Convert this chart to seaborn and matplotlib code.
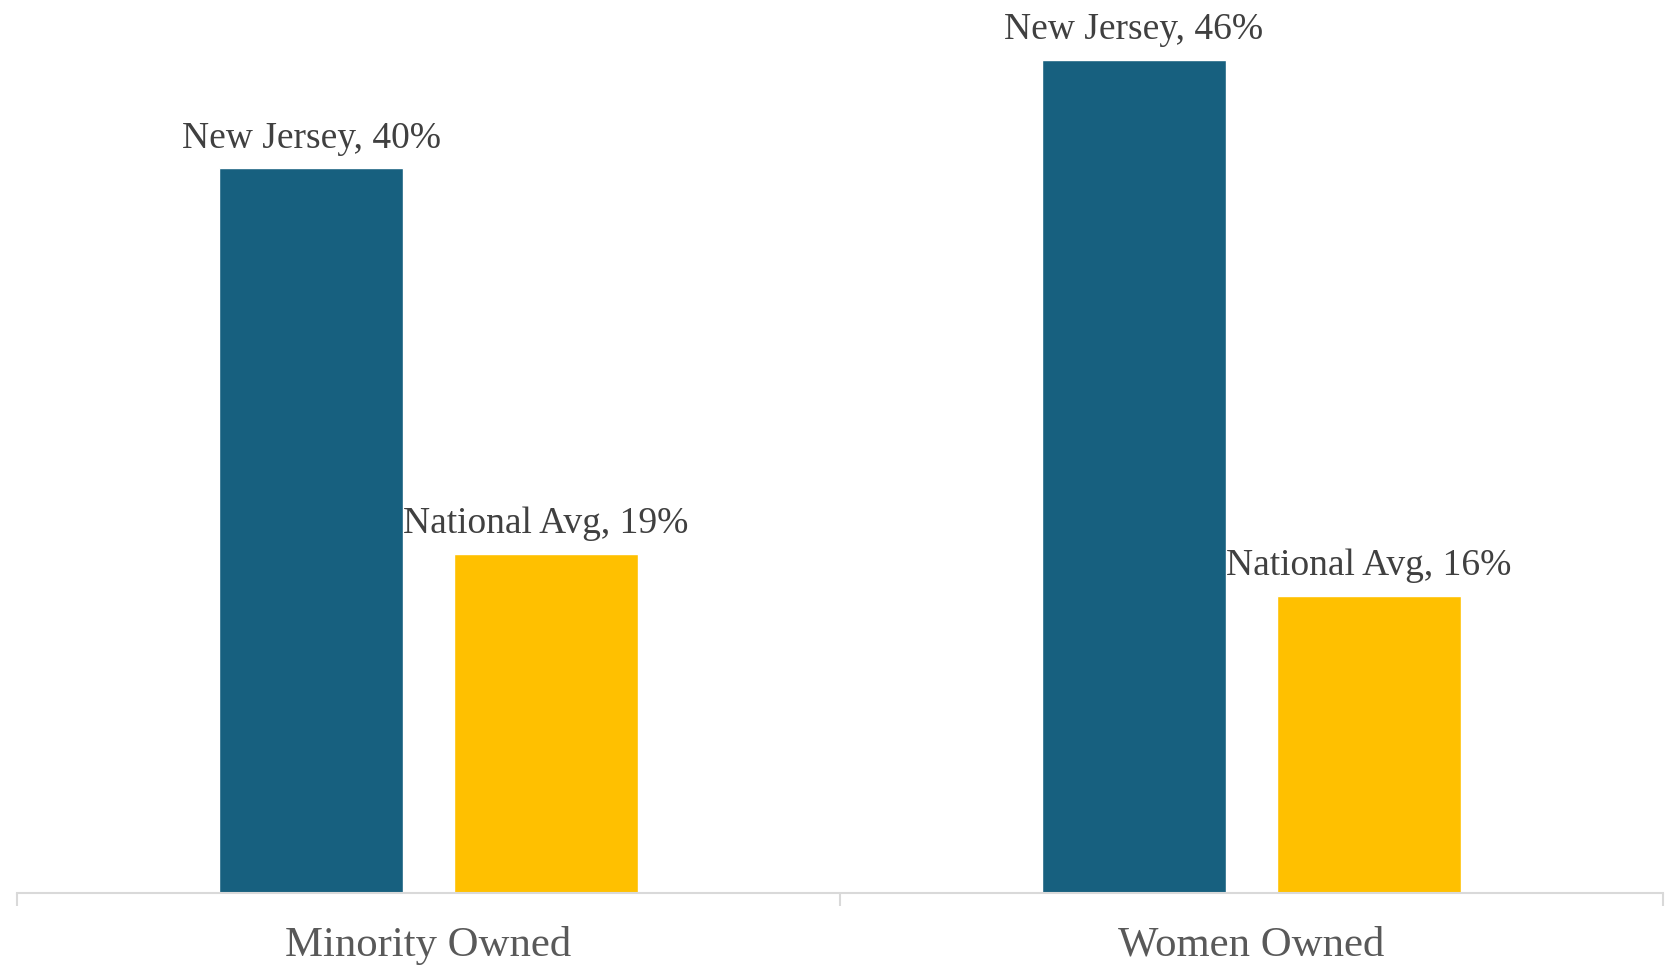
import pandas as pd
import seaborn as sns
import matplotlib.pyplot as plt
from matplotlib.ticker import FixedLocator

# datos (las etiquetas redondean al entero)
categorias = ["Minority Owned", "Women Owned"]
series = ["New Jersey", "National Avg"]
nj = [40, 46]
nacional = [18.7, 16.4]
colores = ["#17607F", "#FFC000"]

df = pd.DataFrame({
    "categoria": categorias * 2,
    "serie": [series[0]] * 2 + [series[1]] * 2,
    "valor": nj + nacional,
})

sns.set_theme(style="white")
plt.rcParams["font.family"] = ["Liberation Serif", "DejaVu Serif"]

fig = plt.figure(figsize=(16.66, 9.72), dpi=100)
ax = fig.add_axes([17 / 1666, (972 - 892.5) / 972, 1646 / 1666, 892.5 / 972])

sns.barplot(data=df, x="categoria", y="valor", hue="serie",
            palette=colores, width=0.571, gap=0.217, saturation=1,
            legend=False, ax=ax)

for cont, nombre in zip(ax.containers, series):
    etiquetas = [f"{nombre}, {v:.0f}%" for v in cont.datavalues]
    ax.bar_label(cont, labels=etiquetas, padding=9, fontsize=27,
                 color="#404040")

ax.set_xlim(-0.5, 1.5)
ax.set_ylim(0, 49.3)
ax.set_xlabel("")
ax.set_ylabel("")
ax.set_yticks([])

for lado in ["top", "left", "right"]:
    ax.spines[lado].set_visible(False)
ax.spines["bottom"].set_color("#d9d9d9")
ax.spines["bottom"].set_linewidth(1.5)

ax.xaxis.set_minor_locator(FixedLocator([-0.5, 0.5, 1.5]))
ax.tick_params(axis="x", which="major", length=0, pad=24,
               labelsize=30.8, labelcolor="#595959")
ax.tick_params(axis="x", which="minor", bottom=True, length=9.5,
               width=1.5, color="#d9d9d9")

fig.savefig("out.png", dpi=100)
